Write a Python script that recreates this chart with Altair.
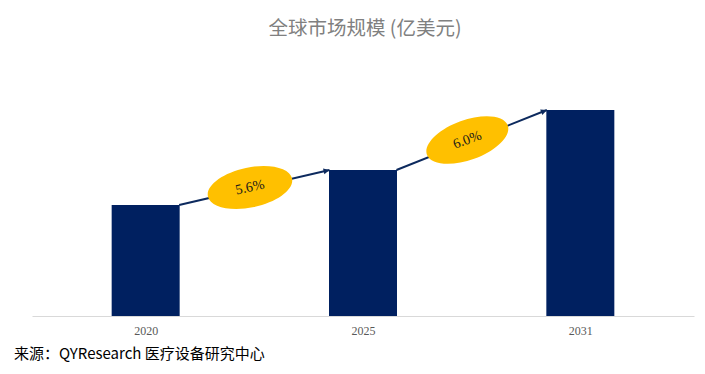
import altair as alt
import pandas as pd

years = ["2020", "2025", "2031"]
market_size = [11.1, 14.6, 20.6]
cagr = ["5.6%", "6.0%"]

BAR = "#002060"
GOLD = "#FFC000"
HALF = 0.154  # half bar width in category-index units

bars_df = pd.DataFrame({"i": list(range(len(years))), "year": years, "value": market_size})
arrow_df = pd.DataFrame({
    "x": [i + HALF for i in range(len(years) - 1)],
    "x2": [i + 1 - HALF for i in range(len(years) - 1)],
    "y": market_size[:-1],
    "y2": market_size[1:],
    "head_angle": [347, 338.6],
})
ell_df = pd.DataFrame({
    "x": [i + 0.48 for i in range(len(years) - 1)],
    "y": [(market_size[i] + market_size[i + 1]) / 2 for i in range(len(years) - 1)],
    "label": cagr,
    "angle": [348, 340],
})

xscale = alt.Scale(domain=[-0.5, 2.5], nice=False, zero=False)
yscale = alt.Scale(domain=[0, 25.7], nice=False, zero=True)

label_expr = "[" + ",".join(f"'{y}'" for y in years) + "][datum.value]"
SERIF = "Times New Roman, Liberation Serif, serif"

bars = alt.Chart(bars_df).mark_bar(size=68, color=BAR).encode(
    x=alt.X("i:Q", scale=xscale, title=None,
            axis=alt.Axis(values=[0, 1, 2], labelExpr=label_expr, ticks=False, grid=False,
                          domainColor="#d9d9d9", domainWidth=1, labelColor="#595959",
                          labelFont=SERIF, labelFontSize=12, labelPadding=9)),
    y=alt.Y("value:Q", scale=yscale, axis=None),
)

arrows = alt.Chart(arrow_df).mark_rule(color="#0d2a5e", strokeWidth=2).encode(
    x=alt.X("x:Q", title=None), x2="x2:Q",
    y=alt.Y("y:Q", axis=None), y2="y2:Q",
)

heads = alt.Chart(arrow_df).mark_point(
    shape="M 0 0 L -1 -0.5 L -1 0.5 Z", filled=True, color="#0d2a5e", opacity=1, size=144,
).encode(
    x=alt.X("x2:Q", title=None),
    y=alt.Y("y2:Q", axis=None),
    angle=alt.Angle("head_angle:Q", scale=None),
)

ellipse_path = ("M -1 0 C -1 -0.257 -0.552 -0.465 0 -0.465 C 0.552 -0.465 1 -0.257 1 0 "
                "C 1 0.257 0.552 0.465 0 0.465 C -0.552 0.465 -1 0.257 -1 0 Z")
ellipses = alt.Chart(ell_df).mark_point(
    shape=ellipse_path, filled=True, color=GOLD, opacity=1, size=7396,
).encode(
    x=alt.X("x:Q", title=None),
    y=alt.Y("y:Q", axis=None),
    angle=alt.Angle("angle:Q", scale=None),
)

ell_text = alt.Chart(ell_df).mark_text(
    font=SERIF, fontSize=14, color="#1a1a1a", align="center", baseline="middle",
).encode(
    x=alt.X("x:Q", title=None),
    y=alt.Y("y:Q", axis=None),
    text="label:N",
    angle=alt.Angle("angle:Q", scale=None),
)

source = alt.Chart(pd.DataFrame({"t": ["来源：QYResearch  医疗设备研究中心"]})).mark_text(
    font="Noto Sans CJK SC", fontSize=15, color="#000000", align="left", baseline="alphabetic",
).encode(x=alt.value(-18), y=alt.value(300), text="t:N")

chart = alt.layer(bars, arrows, heads, ellipses, ell_text, source).properties(
    width=662, height=257,
    autosize=alt.AutoSizeParams(type="none"),
    padding={"left": 24, "top": 51, "right": 3, "bottom": 49},
    title=alt.TitleParams("全球市场规模 (亿美元)", font="Noto Sans CJK SC", fontSize=19.5,
                          fontWeight="normal", color="#808080", anchor="middle", dx=2, offset=20),
).configure_view(stroke=None)

chart.save("out.html", embed_options={"renderer": "svg", "actions": False})
